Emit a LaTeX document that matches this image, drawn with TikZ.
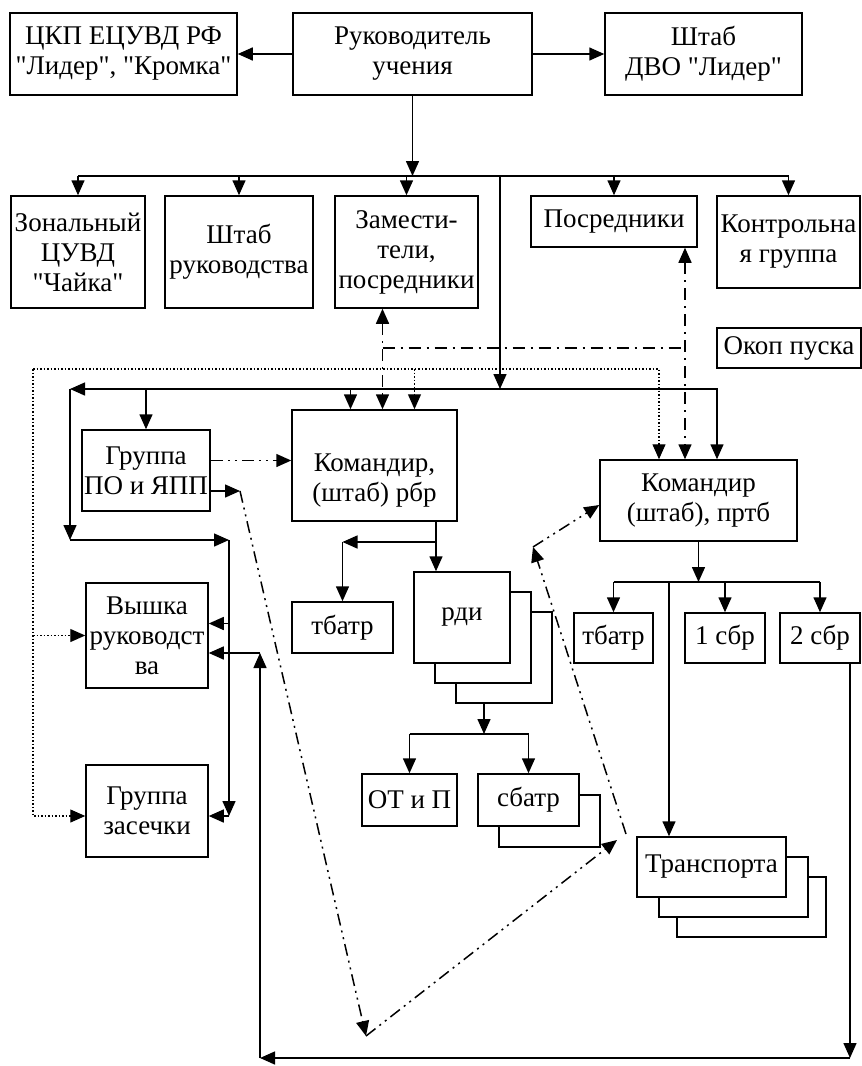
\documentclass[tikz,border=0pt]{standalone}
\usepackage{fontspec}
\setmainfont{Liberation Serif}[Ligatures=TeXOff]
\usetikzlibrary{arrows.meta}

\begin{document}
\begin{tikzpicture}[line width=1.5pt]
  \tikzset{x=1pt, y=-1pt, >={Triangle[length=15pt,width=13pt]}}
  \tikzstyle{box}=[rectangle, draw, fill=white, align=center, inner sep=1pt, font=\fontsize{27}{30}\selectfont]
  \tikzstyle{back}=[rectangle, draw, fill=white]
  \tikzstyle{dchain}=[dash pattern=on 12pt off 6pt on 2pt off 6pt]
  \tikzstyle{dchain2}=[dash pattern=on 12pt off 5pt on 2pt off 5pt on 2pt off 5pt]
  \tikzstyle{dotln}=[line width=1.2pt, dash pattern=on 1.5pt off 2pt]

  \useasboundingbox (0,0) rectangle (862,1066);

  % top
  \draw (123.5, 54)   node[box, minimum width=227pt, minimum height=82pt]  (ckp)   {ЦКП ЕЦУВД РФ\\"Лидер", "Кромка"};
  \draw (412.5, 54)   node[box, minimum width=239pt, minimum height=82pt]  (ruk)   {Руководитель\\учения};
  \draw (703.5, 54)   node[box, minimum width=197pt, minimum height=82pt]  (dvo)   {Штаб\\ДВО "Лидер"};

  \draw (78, 252)     node[box, minimum width=134pt, minimum height=112pt] (zon)   {Зональный\\ЦУВД\\"Чайка"};
  \draw (239, 252)    node[box, minimum width=148pt, minimum height=112pt] (shr)   {Штаб\\руководства};
  \draw (406.5, 252)  node[box, minimum width=143pt, minimum height=112pt] (zam)   {Замести-\\тели,\\посредники};
  \draw (614, 221.5)  node[box, minimum width=166pt, minimum height=51pt]  (posr)  {Посредники};
  \draw (788.5, 242)  node[box, minimum width=143pt, minimum height=92pt]  (kontr) {Контрольна\\я группа};
  \draw (789, 348)    node[box, minimum width=144pt, minimum height=40pt]  (okop)  {Окоп пуска};

  % middle
  \draw (146, 470.5)  node[box, minimum width=128pt, minimum height=81pt]  (grpo)  {Группа\\ПО и ЯПП};
  \draw (374.5, 465.5) node[box, minimum width=165pt, minimum height=111pt] (rbr)  {\rule{0pt}{48pt}Командир,\\(штаб) рбр};
  \draw (698.5, 500.5) node[box, minimum width=197pt, minimum height=81pt] (prtb)  {Командир\\(штаб), пртб};

  \draw (147, 635.5)  node[box, minimum width=122pt, minimum height=105pt] (vysh)  {Вышка\\руководст\\ва};
  \draw (147, 811)    node[box, minimum width=122pt, minimum height=92pt]  (zas)   {Группа\\засечки};
  \draw (342.5, 627.5) node[box, minimum width=101pt, minimum height=51pt] (tb1)   {тбатр};

  \draw (504, 657.5)  node[back, minimum width=96pt, minimum height=91pt]  (rdi3)  {};
  \draw (483, 637.5)  node[back, minimum width=96pt, minimum height=91pt]  (rdi2)  {};
  \draw (462, 617.5)  node[box, minimum width=96pt, minimum height=91pt]   (rdi)   {рди};

  \draw (409.5, 800)  node[box, minimum width=95pt, minimum height=52pt]   (otp)   {ОТ и П};
  \draw (549.5, 821)  node[back, minimum width=101pt, minimum height=52pt] (sbatr2) {};
  \draw (528.5, 800)  node[box, minimum width=101pt, minimum height=52pt]  (sbatr) {сбатр};

  \draw (613.5, 638)  node[box, minimum width=79pt, minimum height=50pt]   (tb2)   {тбатр};
  \draw (725, 638)    node[box, minimum width=80pt, minimum height=50pt]   (sbr1)  {1 сбр};
  \draw (820, 638)    node[box, minimum width=80pt, minimum height=50pt]   (sbr2)  {2 сбр};

  \draw (751.5, 907)  node[back, minimum width=149pt, minimum height=60pt] (tr3)   {};
  \draw (733.5, 887)  node[back, minimum width=149pt, minimum height=60pt] (tr2)   {};
  \draw (711.5, 867)  node[box, minimum width=149pt, minimum height=60pt]  (transp) {Транспорта};

  % buses
  \coordinate (tbus) at (500, 176);
  \coordinate (lbus) at (500, 389);
  \coordinate (lbl)  at (70, 389);
  \coordinate (lbd)  at (70, 540);
  \coordinate (lbe)  at (229, 540);
  \coordinate (ddh)  at (500, 348);
  \coordinate (dtl)  at (33, 369);

  \coordinate (rbs) at ([xshift=-24pt]rbr.north);
  \coordinate (rbd) at ([xshift=8pt]rbr.north);
  \coordinate (rbp) at ([xshift=40pt]rbr.north);
  \coordinate (pts) at ([xshift=18.5pt]prtb.north);
  \coordinate (ptd) at ([xshift=-13.5pt]prtb.north);
  \coordinate (ptp) at ([xshift=-39.5pt]prtb.north);
  \coordinate (zmd) at ([xshift=-24pt]zam.south);
  \coordinate (vy1) at ([yshift=12pt]vysh.east);
  \coordinate (vy2) at ([yshift=-17.5pt]vysh.east);
  \coordinate (zs1) at ([yshift=-5pt]zas.east);
  \coordinate (zs0) at ([yshift=-5pt]zas.west);

  \draw [->] (ruk.west) -- (ckp.east);
  \draw [->] (ruk.east) -- (dvo.west);
  \draw [->] (ruk.south) -- (ruk.south |- tbus);
  \draw (zon.north |- tbus) -- (kontr.north |- tbus);
  \foreach \n in {zon, shr, zam, posr, kontr}
      \draw [->] (\n.north |- tbus) -- (\n.north);
  \draw [->] (tbus) -- (lbus);

  \draw [->] (lbus) -- (lbl);
  \draw [->] (lbus) -- (lbus -| pts) -- (pts);
  \draw [->] (grpo.north |- lbus) -- (grpo.north);
  \draw [->] (rbs |- lbus) -- (rbs);
  \draw [->] (lbl) -- (lbd);
  \draw [->] (lbd) -- (lbe);
  \draw [->] (lbe) -- (lbe |- zs1);
  \draw [->] (lbe |- zs1) -- (zs1);
  \draw [->] (vy1 -| lbe) -- (vy1);

  % mediators
  \draw [dchain, <->] (zmd) -- (rbd);
  \draw [dchain, <->] (posr.south -| ptd) -- (ptd);
  \draw [dchain] (ddh -| zmd) -- (ddh -| ptd);

  % dotted
  \draw [dotln, ->] (dtl) -- (dtl -| ptp) -- (ptp);
  \draw [dotln, ->] (dtl -| rbp) -- (rbp);
  \draw [dotln, ->] (dtl) -- (dtl |- zs0) -- (zs0);
  \draw [dotln, ->] (dtl |- vysh.west) -- (vysh.west);

  % ПО и ЯПП
  \coordinate (po1) at ([yshift=10pt]grpo.east);
  \coordinate (po2) at ([yshift=-20.5pt]grpo.east);
  \coordinate (c1)  at (240, 491);
  \coordinate (c2)  at (366, 1036);
  \coordinate (c3)  at (617, 840);
  \coordinate (c3b) at (626, 834);
  \coordinate (c4)  at (533, 547);
  \coordinate (pt1) at ([yshift=-4.5pt]prtb.west);
  \draw [dchain2, ->] (po1) -- (po1 -| rbr.west);
  \draw [->] (po2) -- (c1);
  \draw [dchain2, ->] (c1) -- (c2);
  \draw [dchain2, ->] (c2) -- (c3);
  \draw [dchain2, ->] (c3b) -- (c4);
  \draw [dchain2, ->] (c4) -- (pt1);

  % рбр
  \coordinate (rbo) at ([xshift=61.5pt]rbr.south);
  \coordinate (rbj) at (436, 542);
  \draw [->] (rbo) -- (rbo |- rdi.north);
  \draw [->] (rbj) -- (rbj -| tb1.north);
  \draw [->] (rbj -| tb1.north) -- (tb1.north);

  % рди
  \coordinate (rdo) at ([xshift=-20pt]rdi3.south);
  \coordinate (rdj) at (484, 734);
  \draw [->] (rdo) -- (rdj);
  \draw (rdj -| otp.north) -- (rdj -| sbatr.north);
  \draw [->] (rdj -| otp.north) -- (otp.north);
  \draw [->] (rdj -| sbatr.north) -- (sbatr.north);

  % пртб
  \coordinate (ptj) at (698.5, 582);
  \coordinate (trn) at ([xshift=-42.5pt]transp.north);
  \draw [->] (prtb.south) -- (ptj);
  \draw (ptj -| tb2.north) -- (ptj -| sbr2.north);
  \foreach \n in {tb2, sbr1, sbr2}
      \draw [->] (ptj -| \n.north) -- (\n.north);
  \draw [->] (trn |- ptj) -- (trn);

  % bottom return
  \coordinate (s2o) at ([xshift=30pt]sbr2.south);
  \coordinate (btr) at (850, 1058);
  \coordinate (btl) at (260, 1058);
  \draw [->] (s2o) -- (btr);
  \draw [->] (btr) -- (btl);
  \draw [->] (btl) -- (btl |- vy2);
  \draw [->] (btl |- vy2) -- (vy2);
\end{tikzpicture}
\end{document}
